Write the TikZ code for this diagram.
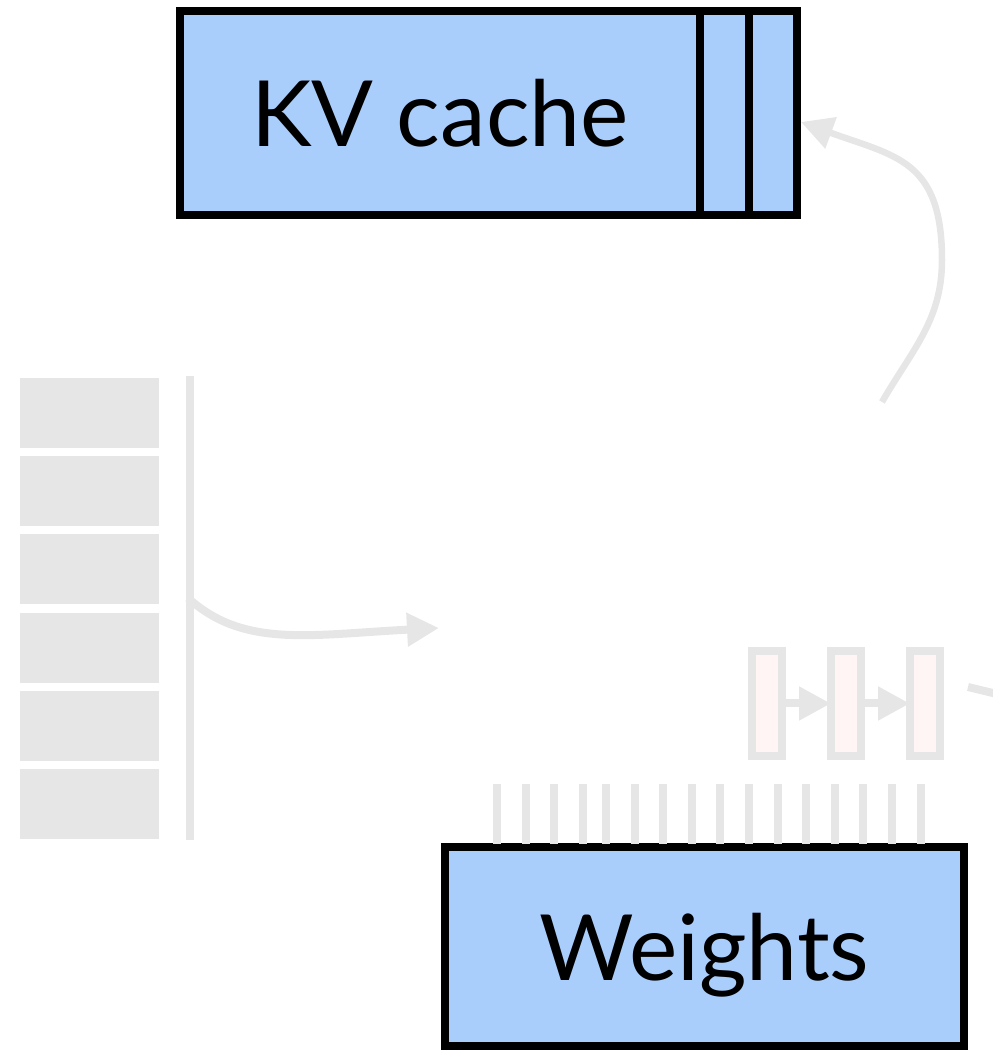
\documentclass[tikz,border=0pt]{standalone}
\usepackage{fontspec}
\setmainfont{Lato}
\usepackage{tikz}
\usetikzlibrary{positioning, calc, arrows.meta}
\definecolor{cacheblue}{RGB}{170,206,251}
\definecolor{fadegray}{RGB}{230,230,230}
\definecolor{fadepink}{RGB}{255,245,245}

\tikzset{
	membox/.style={draw=black, fill=cacheblue, line width=0.08cm, inner sep=0pt, outer sep=0pt, text depth=0pt, font=\fontsize{26}{31}\selectfont},
	tokbox/.style={fill=fadegray, minimum width=1.39cm, minimum height=0.70cm, inner sep=0pt, outer sep=0pt},
	layerbox/.style={draw=fadegray, fill=fadepink, line width=0.08cm, minimum width=0.30cm, minimum height=1.05cm, inner sep=0pt, outer sep=0pt},
	fadeline/.style={draw=fadegray, line width=0.08cm},
	fadearrow/.style={fadeline, -{Triangle[length=0.32cm, width=0.32cm]}},
}

\begin{document}
\begin{tikzpicture}
	\useasboundingbox (0,0) rectangle (9.93,10.5);
	\pgfmathsetmacro{\cacheh}{2.04}
	\pgfmathsetmacro{\slotw}{0.485}
	\pgfmathsetmacro{\tokstep}{0.782}
	\pgfmathsetmacro{\tickstep}{0.286}
	
	\node[membox, minimum width=5.20cm, minimum height=\cacheh cm] (kv) at (4.40,9.37) {KV cache};
	\node[membox, minimum width=\slotw cm, minimum height=\cacheh cm, right=0pt of kv] (kv1) {};
	\node[membox, minimum width=\slotw cm, minimum height=\cacheh cm, right=0pt of kv1] (kv2) {};
	
	\foreach \i in {1,...,6}
		\node[tokbox] (tok\i) at (0.895,{6.37-\tokstep*(\i-1)}) {};
	\draw[fadegray, line width=0.08cm] (1.90,6.74) -- (1.90,2.10);
	\coordinate (split) at (1.88,4.52);
	\coordinate (attn) at (4.39,4.22);
	\draw[fadearrow] (split) .. controls +(-42:0.75) and +(183:1.3) .. (attn);
	
	\node[layerbox] (h1) at (7.67,3.465) {};
	\node[layerbox, right=0.49cm of h1] (h2) {};
	\node[layerbox, right=0.49cm of h2] (h3) {};
	\draw[fadearrow] (h1) -- (h2);
	\draw[fadearrow] (h2) -- (h3);
	\coordinate (out0) at (9.68,3.63);
	\coordinate (out1) at (10.30,3.48);
	\draw[fadeline] (out0) -- (out1);
	
	\coordinate (src) at (8.82,6.48);
	\coordinate (bend) at (9.42,7.90);
	\draw[fadearrow, line width=0.065cm] (src) to[out=60, in=-90] (bend)
		to[out=90, in=-20, looseness=1.3] ([shift={(0.04,-0.09)}]kv2.east);
	
	\node[membox, minimum width=5.19cm, minimum height=1.99cm] (weights) at (7.045,1.035) {Weights};
	\foreach \i in {0,...,3}
		\draw[fadegray, line width=0.08cm] ({4.97+\tickstep*\i},2.66) -- ({4.97+\tickstep*\i},2.06);
	\foreach \i in {0,...,11}
		\draw[fadegray, line width=0.08cm] ({6.06+\tickstep*\i},2.66) -- ({6.06+\tickstep*\i},2.06);
\end{tikzpicture}
\end{document}
